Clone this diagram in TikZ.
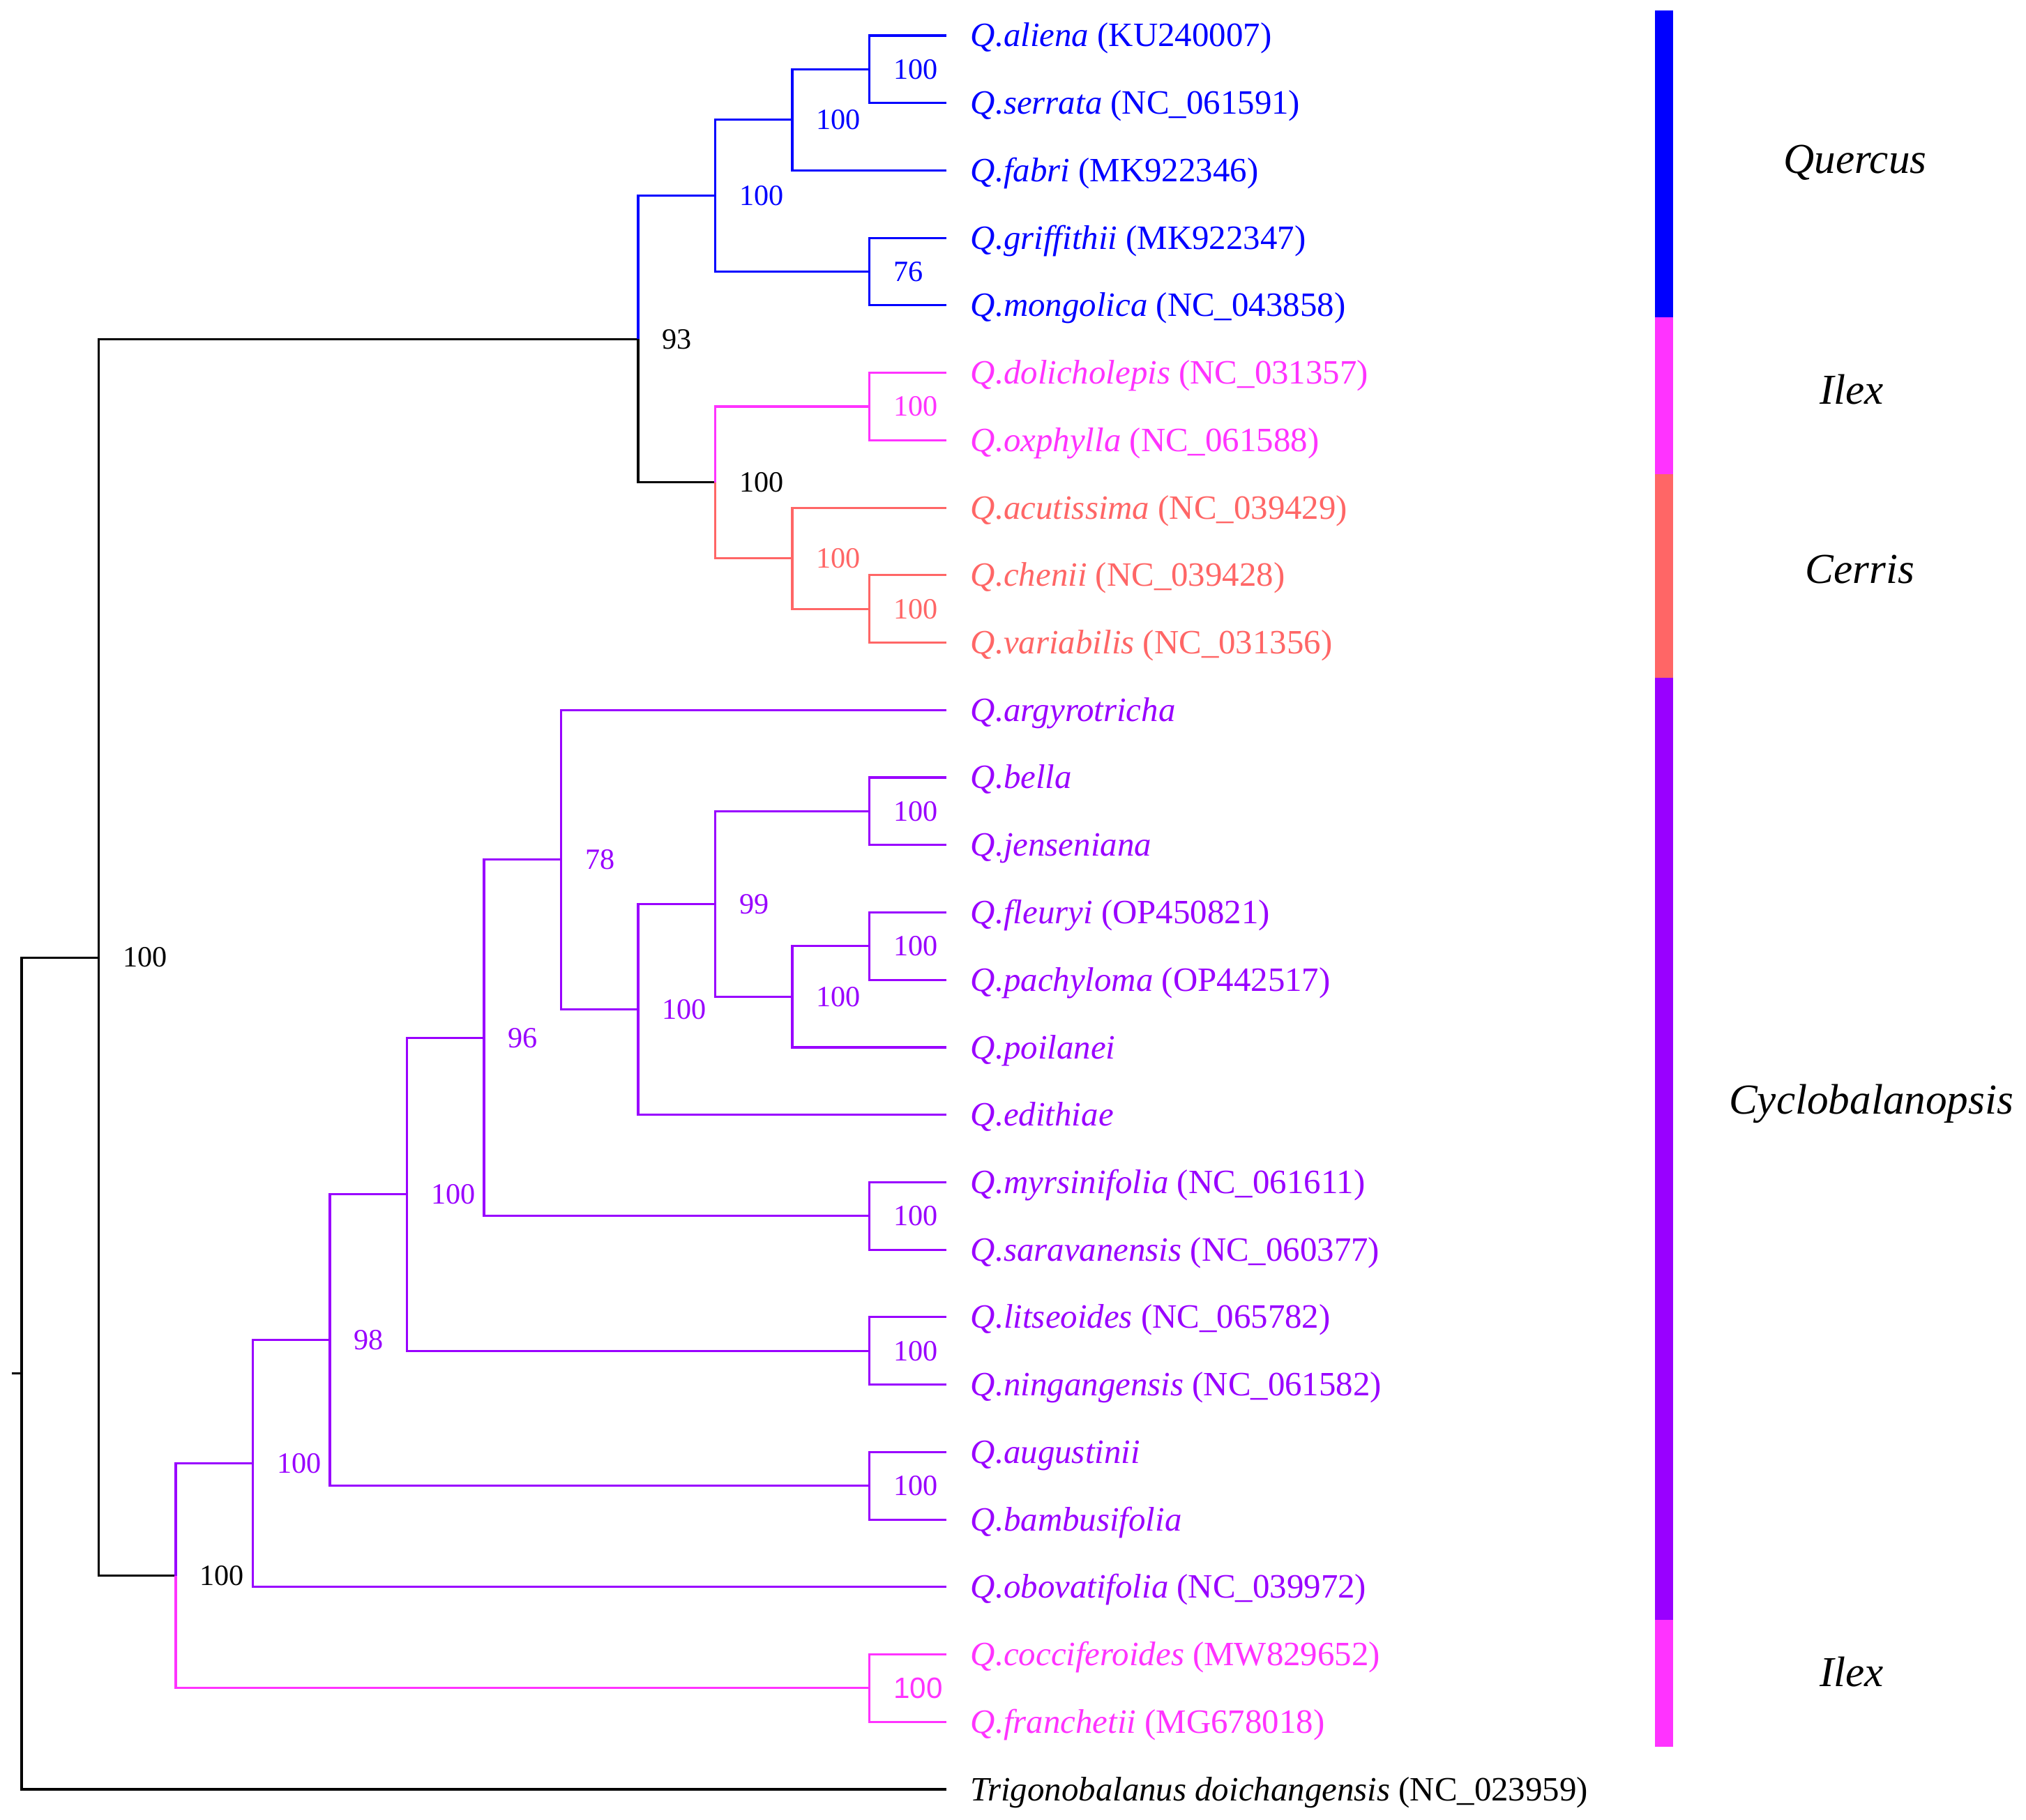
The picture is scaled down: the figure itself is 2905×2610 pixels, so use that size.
\documentclass[tikz,border=0pt]{standalone}
\usepackage{fontspec}
\setmainfont{Liberation Serif}
\newfontfamily\sansf{Liberation Sans}
\usetikzlibrary{calc}
\definecolor{qblue}{RGB}{0,0,255}
\definecolor{imag}{RGB}{255,51,255}
\definecolor{csal}{RGB}{255,102,102}
\definecolor{cpur}{RGB}{153,0,255}
\tikzset{
  br/.style={line width=0.9pt},
  bs/.style={anchor=west, inner sep=0pt, font=\fontsize{12}{14}\selectfont},
  leaflab/.style={anchor=base west, inner sep=0pt, font=\fontsize{13.9}{16}\selectfont},
  grp/.style={anchor=base, inner sep=0pt, font=\fontsize{17.4}{20}\selectfont\itshape},
}
\newcommand{\leafn}[5]{%
  \coordinate (#1) at (1357,#2);
  \node[leaflab,text=#3] (t#1) at (1391,#2+16) {\textit{#4} #5};}
\newcommand{\bsn}[3]{\node[bs,text=#2] (bs#1) at ($(#1)+(34,0)$) {#3};}
\begin{document}
\begin{tikzpicture}[x=0.01cm,y=-0.01cm]
\useasboundingbox (0,0) rectangle (2905,2610);
% leaves
\leafn{l0}{51.0}{qblue}{Q.aliena}{(KU240007)}
\leafn{l1}{147.7}{qblue}{Q.serrata}{(NC\_061591)}
\leafn{l2}{244.5}{qblue}{Q.fabri}{(MK922346)}
\leafn{l3}{341.2}{qblue}{Q.griffithii}{(MK922347)}
\leafn{l4}{437.9}{qblue}{Q.mongolica}{(NC\_043858)}
\leafn{l5}{534.7}{imag}{Q.dolicholepis}{(NC\_031357)}
\leafn{l6}{631.4}{imag}{Q.oxphylla}{(NC\_061588)}
\leafn{l7}{728.1}{csal}{Q.acutissima}{(NC\_039429)}
\leafn{l8}{824.8}{csal}{Q.chenii}{(NC\_039428)}
\leafn{l9}{921.6}{csal}{Q.variabilis}{(NC\_031356)}
\leafn{l10}{1018.3}{cpur}{Q.argyrotricha}{}
\leafn{l11}{1115.0}{cpur}{Q.bella}{}
\leafn{l12}{1211.8}{cpur}{Q.jenseniana}{}
\leafn{l13}{1308.5}{cpur}{Q.fleuryi}{(OP450821)}
\leafn{l14}{1405.2}{cpur}{Q.pachyloma}{(OP442517)}
\leafn{l15}{1502.0}{cpur}{Q.poilanei}{}
\leafn{l16}{1598.7}{cpur}{Q.edithiae}{}
\leafn{l17}{1695.4}{cpur}{Q.myrsinifolia}{(NC\_061611)}
\leafn{l18}{1792.1}{cpur}{Q.saravanensis}{(NC\_060377)}
\leafn{l19}{1888.9}{cpur}{Q.litseoides}{(NC\_065782)}
\leafn{l20}{1985.6}{cpur}{Q.ningangensis}{(NC\_061582)}
\leafn{l21}{2082.3}{cpur}{Q.augustinii}{}
\leafn{l22}{2179.1}{cpur}{Q.bambusifolia}{}
\leafn{l23}{2275.8}{cpur}{Q.obovatifolia}{(NC\_039972)}
\leafn{l24}{2372.5}{imag}{Q.cocciferoides}{(MW829652)}
\leafn{l25}{2469.3}{imag}{Q.franchetii}{(MG678018)}
\leafn{l26}{2566.0}{black}{Trigonobalanus doichangensis}{(NC\_023959)}
% internal nodes
\coordinate (q11) at (1246.5,99.35);
\coordinate (q1) at (1136,171.9);
\coordinate (q2) at (1246.5,389.55);
\coordinate (q) at (1025.5,280.7);
\coordinate (i1) at (1246.5,583.05);
\coordinate (c11) at (1246.5,873.2);
\coordinate (c1) at (1136,800.65);
\coordinate (ic) at (1025.5,691.85);
\coordinate (b) at (915,486.3);
\coordinate (n) at (1246.5,1356.85);
\coordinate (m) at (1136,1429.4);
\coordinate (bj) at (1246.5,1163.4);
\coordinate (k) at (1025.5,1296.4);
\coordinate (j) at (915,1447.55);
\coordinate (i) at (804.5,1232.9);
\coordinate (ms) at (1246.5,1743.75);
\coordinate (h) at (694,1488.3);
\coordinate (ln) at (1246.5,1937.25);
\coordinate (f) at (583.5,1712.8);
\coordinate (ab) at (1246.5,2130.7);
\coordinate (e) at (473,1921.75);
\coordinate (d) at (362.5,2098.8);
\coordinate (cf) at (1246.5,2420.9);
\coordinate (c) at (252,2259.85);
\coordinate (a) at (141.5,1373.1);
\coordinate (root) at (31,1969.55);
\coordinate (stub) at (17,1969.55);
% branches
\draw[br] (stub) -- (root);
\draw[br] (root) |- (a);
\draw[br] (root) |- (l26);
\draw[br] (a) |- (b);
\draw[br] (a) |- (c);
\draw[br,qblue] (b) |- (q);
\draw[br] (b) |- (ic);
\draw[br,qblue] (q) |- (q1);
\draw[br,qblue] (q) |- (q2);
\draw[br,qblue] (q1) |- (q11);
\draw[br,qblue] (q1) |- (l2);
\draw[br,qblue] (q11) |- (l0);
\draw[br,qblue] (q11) |- (l1);
\draw[br,qblue] (q2) |- (l3);
\draw[br,qblue] (q2) |- (l4);
\draw[br,imag] (ic) |- (i1);
\draw[br,csal] (ic) |- (c1);
\draw[br,imag] (i1) |- (l5);
\draw[br,imag] (i1) |- (l6);
\draw[br,csal] (c1) |- (l7);
\draw[br,csal] (c1) |- (c11);
\draw[br,csal] (c11) |- (l8);
\draw[br,csal] (c11) |- (l9);
\draw[br,cpur] (c) |- (d);
\draw[br,imag] (c) |- (cf);
\draw[br,imag] (cf) |- (l24);
\draw[br,imag] (cf) |- (l25);
\draw[br,cpur] (d) |- (e);
\draw[br,cpur] (d) |- (l23);
\draw[br,cpur] (e) |- (f);
\draw[br,cpur] (e) |- (ab);
\draw[br,cpur] (ab) |- (l21);
\draw[br,cpur] (ab) |- (l22);
\draw[br,cpur] (f) |- (h);
\draw[br,cpur] (f) |- (ln);
\draw[br,cpur] (ln) |- (l19);
\draw[br,cpur] (ln) |- (l20);
\draw[br,cpur] (h) |- (i);
\draw[br,cpur] (h) |- (ms);
\draw[br,cpur] (ms) |- (l17);
\draw[br,cpur] (ms) |- (l18);
\draw[br,cpur] (i) |- (l10);
\draw[br,cpur] (i) |- (j);
\draw[br,cpur] (j) |- (k);
\draw[br,cpur] (j) |- (l16);
\draw[br,cpur] (k) |- (bj);
\draw[br,cpur] (k) |- (m);
\draw[br,cpur] (bj) |- (l11);
\draw[br,cpur] (bj) |- (l12);
\draw[br,cpur] (m) |- (n);
\draw[br,cpur] (m) |- (l15);
\draw[br,cpur] (n) |- (l13);
\draw[br,cpur] (n) |- (l14);
% bootstrap values
\bsn{q11}{qblue}{100}
\bsn{q1}{qblue}{100}
\bsn{q}{qblue}{100}
\bsn{q2}{qblue}{76}
\bsn{b}{black}{93}
\bsn{i1}{imag}{100}
\bsn{ic}{black}{100}
\bsn{c1}{csal}{100}
\bsn{c11}{csal}{100}
\bsn{i}{cpur}{78}
\bsn{bj}{cpur}{100}
\bsn{k}{cpur}{99}
\bsn{n}{cpur}{100}
\bsn{m}{cpur}{100}
\bsn{j}{cpur}{100}
\bsn{h}{cpur}{96}
\bsn{ms}{cpur}{100}
\bsn{f}{cpur}{100}
\bsn{ln}{cpur}{100}
\bsn{e}{cpur}{98}
\bsn{ab}{cpur}{100}
\bsn{d}{cpur}{100}
\bsn{a}{black}{100}
\bsn{c}{black}{100}
\node[bs,text=imag,font=\fontsize{12}{14}\selectfont\sansf] (bscf) at ($(cf)+(34,0)$) {100};
% colour bar
\fill[qblue] (2373,15) rectangle (2399,455);
\fill[imag] (2373,455) rectangle (2399,680);
\fill[csal] (2373,680) rectangle (2399,972);
\fill[cpur] (2373,972) rectangle (2399,2323);
\fill[imag] (2373,2323) rectangle (2399,2505);
% group labels
\node[grp] (gq) at (2660,249) {Quercus};
\node[grp] (gi1) at (2655,580) {Ilex};
\node[grp] (gc) at (2667,837) {Cerris};
\node[grp] (gcy) at (2683,1597) {Cyclobalanopsis};
\node[grp] (gi2) at (2655,2418) {Ilex};
\end{tikzpicture}
\end{document}
